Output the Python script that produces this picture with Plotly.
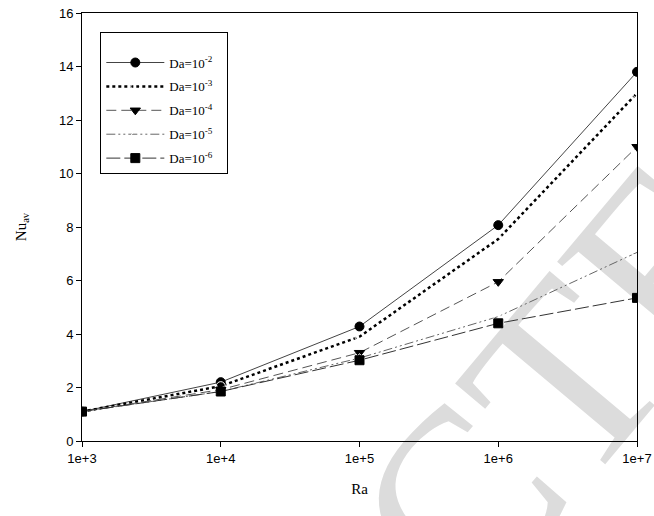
import plotly.graph_objects as go

ra = [1e3, 1e4, 1e5, 1e6, 1e7]
nu_da2 = [1.10, 2.20, 4.28, 8.07, 13.80]
nu_da3 = [1.10, 2.05, 3.90, 7.55, 13.00]
nu_da4 = [1.10, 1.92, 3.30, 5.95, 11.00]
nu_da5 = [1.10, 1.85, 3.10, 4.65, 7.05]
nu_da6 = [1.10, 1.85, 3.02, 4.40, 5.35]
labels = ["Da=10<sup>-2</sup>", "Da=10<sup>-3</sup>", "Da=10<sup>-4</sup>",
          "Da=10<sup>-5</sup>", "Da=10<sup>-6</sup>"]
tick_vals = [1e3, 1e4, 1e5, 1e6, 1e7]
tick_text = ["1e+3", "1e+4", "1e+5", "1e+6", "1e+7"]
watermark = "ACTE"

styles = [
    dict(dash="solid", color="#444", width=1, symbol="circle", mcolor="black"),
    dict(dash="dot", color="black", width=2.5, symbol="circle-open", mcolor="white"),
    dict(dash="10px,5px", color="#555", width=1, symbol="triangle-down", mcolor="black"),
    dict(dash="9px,3px,2px,3px,2px,3px", color="#666", width=1, symbol="triangle-up-open", mcolor="white"),
    dict(dash="14px,4px", color="#333", width=1, symbol="square", mcolor="black"),
]

fig = go.Figure()
for i, (ys, lab, st) in enumerate(zip([nu_da2, nu_da3, nu_da4, nu_da5, nu_da6], labels, styles)):
    fig.add_trace(go.Scatter(
        x=ra, y=ys, name=lab + "\u00a0\u00a0\u00a0", mode="lines+markers", legendgroup=f"g{i}",
        line=dict(color=st["color"], width=st["width"], dash=st["dash"]),
        marker=dict(symbol=st["symbol"], size=9, color=st["mcolor"],
                    line=dict(color="black", width=1)),
    ))

# watermark behind the data
fig.add_shape(type="line", xref="paper", yref="paper",
              x0=0.61, y0=-0.61, x1=1.21, y1=0.19, layer="below",
              line=dict(width=0, color="rgba(0,0,0,0)"),
              label=dict(text=watermark, textangle=-50, textposition="middle",
                         font=dict(family="Liberation Serif", size=255, color="#dcdcdc")))

fig.update_layout(
    width=654, height=516,
    margin=dict(l=82, r=17, t=13, b=75, autoexpand=False),
    paper_bgcolor="white", plot_bgcolor="rgba(0,0,0,0)",
    showlegend=True,
    legend=dict(x=0.033, y=0.955, xanchor="left", yanchor="top",
                bordercolor="black", borderwidth=1, bgcolor="white",
                font=dict(family="Liberation Serif", size=13, color="black"),
                title=dict(text="\u00a0", font=dict(size=11)),
                tracegroupgap=4, itemwidth=58),
    font=dict(family="Liberation Sans", size=13, color="black"),
)
fig.update_xaxes(type="log", range=[3, 7], tickvals=tick_vals, ticktext=tick_text,
                 automargin=False,
                 showline=True, linecolor="black", linewidth=1, mirror=True,
                 ticks="outside", ticklen=5, tickcolor="black", showgrid=False, zeroline=False,
                 tickfont=dict(family="Liberation Sans", size=13), ticklabeloverflow="allow",
                 title=dict(text="Ra", font=dict(family="Liberation Serif", size=15), standoff=18))
fig.update_yaxes(range=[0, 16], dtick=2, automargin=False,
                 showline=True, linecolor="black", linewidth=1, mirror=True,
                 ticks="outside", ticklen=5, tickcolor="black", showgrid=False, zeroline=False,
                 tickfont=dict(family="Liberation Sans", size=13), ticklabeloverflow="allow",
                 title=dict(text="Nu<sub>av</sub>", font=dict(family="Liberation Serif", size=15), standoff=28))

fig.write_html("out.html", config={"displayModeBar": False},
               post_script="document.body.style.margin='0';document.body.style.overflow='hidden';")
